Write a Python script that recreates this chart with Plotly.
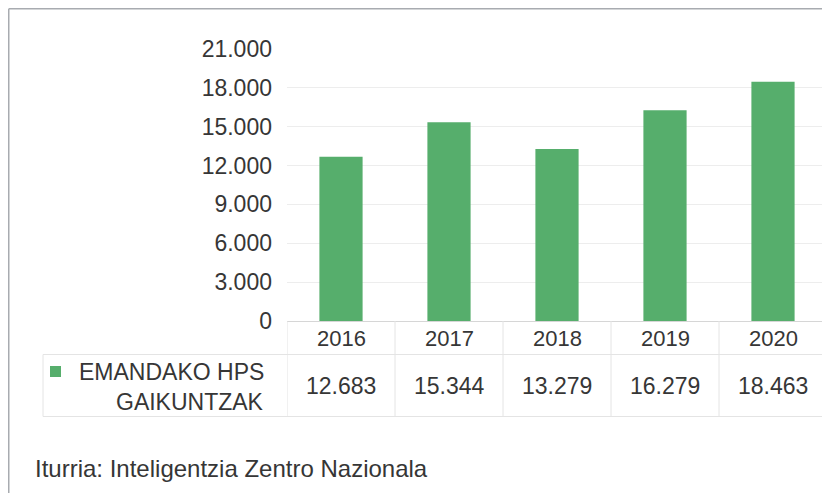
import plotly.graph_objects as go

years = ["2016", "2017", "2018", "2019", "2020"]
values = [12683, 15344, 13279, 16279, 18463]
series_name = ["EMANDAKO HPS", "GAIKUNTZAK"]
source = "Iturria: Inteligentzia Zentro Nazionala"
y_ticks = [0, 3000, 6000, 9000, 12000, 15000, 18000, 21000]

# page body has an 8px margin, so the figure is sized to fit the visible window
OFF = 8
W, H = 830 - OFF, 493 - OFF
GREEN = "#56AE6C"
TXT = "#363636"
FONT = "Liberation Sans, Arial, sans-serif"
FS = 23


def px(x):
    """screen x (in reference pixels) -> paper fraction"""
    return (x - OFF) / W


def py(y):
    """screen y (in reference pixels) -> paper fraction"""
    return 1 - (y - OFF) / H


def fmt(v):
    return f"{v:,}".replace(",", ".")


fig = go.Figure()
fig.add_trace(go.Bar(x=years, y=values, marker=dict(color=GREEN, line=dict(width=0)),
                     hoverinfo="x+y"))

shapes = []
annotations = []

# outer border (top and left)
BC = "#A8ABB0"
shapes.append(dict(type="line", xref="paper", yref="paper", x0=px(8.75), x1=px(840), y0=py(8.75), y1=py(8.75),
                   line=dict(color=BC, width=1.5)))
shapes.append(dict(type="line", xref="paper", yref="paper", x0=px(8.75), x1=px(8.75), y0=py(8.75), y1=py(500),
                   line=dict(color=BC, width=1.5)))

TL = "#E4E4E4"
# data table lines
shapes.append(dict(type="line", xref="paper", yref="paper", x0=px(43), x1=px(827), y0=py(354.5), y1=py(354.5),
                   line=dict(color=TL, width=1)))
shapes.append(dict(type="line", xref="paper", yref="paper", x0=px(43), x1=px(827), y0=py(416.5), y1=py(416.5),
                   line=dict(color=TL, width=1)))
shapes.append(dict(type="line", xref="paper", yref="paper", x0=px(43), x1=px(43), y0=py(354.5), y1=py(416.5),
                   line=dict(color=TL, width=1)))
for i in range(len(years)):
    shapes.append(dict(type="line", xref="x", yref="paper", x0=i - 0.5, x1=i - 0.5, y0=py(321), y1=py(416.5),
                       line=dict(color=TL, width=1)))

# legend key
shapes.append(dict(type="rect", xref="paper", yref="paper", x0=px(50), x1=px(61), y0=py(377), y1=py(366),
                   fillcolor=GREEN, line=dict(width=0)))

for i, (yr, v) in enumerate(zip(years, values)):
    annotations.append(dict(x=i, y=py(338), xref="x", yref="paper", text=yr, showarrow=False,
                            xanchor="center", yanchor="middle", font=dict(size=FS - 1, color=TXT, family=FONT)))
    annotations.append(dict(x=i, y=py(386), xref="x", yref="paper", text=fmt(v), showarrow=False,
                            xanchor="center", yanchor="middle", font=dict(size=FS, color=TXT, family=FONT)))

annotations.append(dict(x=px(266), y=py(372), xref="paper", yref="paper", text=series_name[0], showarrow=False,
                        xanchor="right", yanchor="middle", font=dict(size=FS, color=TXT, family=FONT)))
annotations.append(dict(x=px(266), y=py(402), xref="paper", yref="paper", text=series_name[1], showarrow=False,
                        xanchor="right", yanchor="middle", font=dict(size=FS, color=TXT, family=FONT)))
annotations.append(dict(x=px(33), y=py(468), xref="paper", yref="paper", text=source, showarrow=False,
                        xanchor="left", yanchor="middle", font=dict(size=FS + 1, color=TXT, family=FONT)))

fig.update_layout(
    width=W, height=H,
    autosize=False,
    margin=dict(l=0, r=0, t=0, b=0, pad=0),
    paper_bgcolor="white", plot_bgcolor="white",
    separators=",.",
    showlegend=False,
    bargap=0.6,
    font=dict(family=FONT, size=FS, color=TXT),
    xaxis=dict(type="category", domain=[px(287), px(827)], range=[-0.5, len(years) - 0.5],
               showticklabels=False, ticks="", showgrid=False, automargin=False,
               showline=True, linecolor="#D6D6D6", linewidth=1, fixedrange=True),
    yaxis=dict(domain=[py(321), py(49)], range=[0, 21000], tickvals=y_ticks, tickformat=",d",
               showgrid=True, gridcolor="#EDEDED", gridwidth=1, zeroline=False, ticks="", automargin=False,
               ticklabelstandoff=14, tickfont=dict(size=FS, color=TXT, family=FONT), fixedrange=True),
    shapes=shapes,
    annotations=annotations,
)

fig.write_html("out.html", config={"responsive": False, "displayModeBar": False},
               include_plotlyjs=True, full_html=True)
